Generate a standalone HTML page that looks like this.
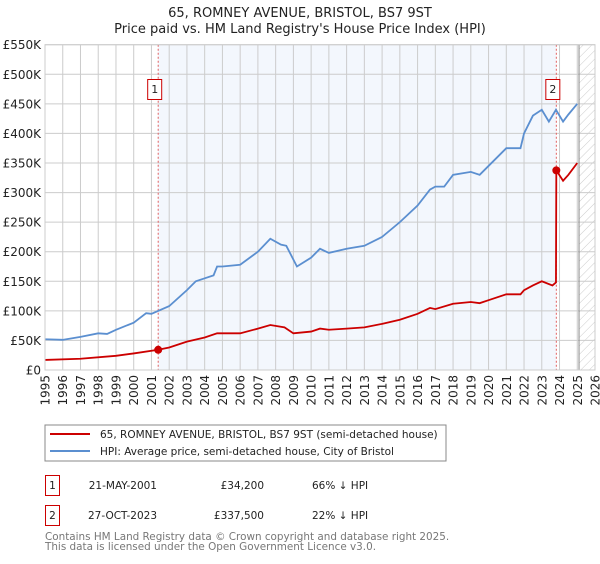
<!DOCTYPE html>
<html><head><meta charset="utf-8"><style>
body{margin:0;background:#fff;font-family:"DejaVu Sans","Liberation Sans",sans-serif;}
svg text{font-family:"DejaVu Sans","Liberation Sans",sans-serif;}
</style></head><body>
<svg id="chart" width="600" height="560" viewBox="0 0 600 560" xmlns="http://www.w3.org/2000/svg">
<defs><pattern id="hatch" width="6" height="6" patternUnits="userSpaceOnUse" patternTransform="rotate(45)"><line x1="0" y1="0" x2="0" y2="6" stroke="#ccc" stroke-width="1"/></pattern></defs>
<text x="300" y="17" text-anchor="middle" font-size="13" fill="#222">65, ROMNEY AVENUE, BRISTOL, BS7 9ST</text>
<text x="300" y="33" text-anchor="middle" font-size="13" fill="#222">Price paid vs. HM Land Registry's House Price Index (HPI)</text>
<g id="plot"></g>
<rect x="45" y="425" width="401" height="36" fill="#fff" stroke="#888"/>
<line x1="50" y1="434" x2="90" y2="434" stroke="#cc0000" stroke-width="2"/>
<text x="100" y="438" font-size="10.5" fill="#222">65, ROMNEY AVENUE, BRISTOL, BS7 9ST (semi-detached house)</text>
<line x1="50" y1="451" x2="90" y2="451" stroke="#5b8fd0" stroke-width="2"/>
<text x="100" y="455" font-size="10.5" fill="#222">HPI: Average price, semi-detached house, City of Bristol</text>
<g>
<rect x="45.5" y="475.5" width="14" height="20" fill="#fff" stroke="#cc0000"/>
<text x="52.5" y="489" text-anchor="middle" font-size="10.5" fill="#222">1</text>
<text x="157" y="489" text-anchor="end" font-size="10.5" fill="#222">21-MAY-2001</text>
<text x="264" y="489" text-anchor="end" font-size="10.5" fill="#222">£34,200</text>
<text x="312" y="489" font-size="10.5" fill="#222">66% ↓ HPI</text></g>
<g>
<rect x="45.5" y="505.5" width="14" height="20" fill="#fff" stroke="#cc0000"/>
<text x="52.5" y="519" text-anchor="middle" font-size="10.5" fill="#222">2</text>
<text x="157" y="519" text-anchor="end" font-size="10.5" fill="#222">27-OCT-2023</text>
<text x="264" y="519" text-anchor="end" font-size="10.5" fill="#222">£337,500</text>
<text x="312" y="519" font-size="10.5" fill="#222">22% ↓ HPI</text></g>
<text x="45" y="540" font-size="10.4" fill="#777">Contains HM Land Registry data © Crown copyright and database right 2025.</text>
<text x="45" y="550" font-size="10.4" fill="#777">This data is licensed under the Open Government Licence v3.0.</text>
</svg>
<script>
const hpiYears=[1995,1996,1997,1998,1998.5,1999,2000,2000.7,2001,2002,2003,2003.5,2004,2004.5,2004.7,2005,2006,2007,2007.7,2008.3,2008.6,2009.2,2010,2010.5,2011,2012,2013,2014,2015,2016,2016.7,2017,2017.5,2018,2019,2019.5,2020,2021,2021.8,2022,2022.5,2023,2023.4,2023.8,2024.2,2024.5,2025];
const hpiValues=[52,51,56,62,61,68,80,96,95,108,135,150,155,160,175,175,178,200,222,212,210,175,190,205,198,205,210,225,250,278,305,310,310,330,335,330,345,375,375,400,430,440,420,440,420,432,450];
const propYears=[1995,1997,1999,2000,2001.38,2002,2003,2004,2004.7,2006,2007,2007.7,2008.5,2009,2010,2010.5,2011,2012,2013,2014,2015,2016,2016.7,2017,2018,2019,2019.5,2020,2021,2021.8,2022,2022.5,2023,2023.6,2023.8,2023.82,2024.2,2024.5,2025];
const propValues=[17,19,24,28,34.2,38,48,55,62,62,70,76,72,62,65,70,68,70,72,78,85,95,105,103,112,115,113,118,128,128,135,143,150,143,148,337.5,320,330,350];
const saleYears=[2001.38,2023.82];
const saleValues=[34.2,337.5];
const saleLabels=["1","2"];
const yTicks=[0,50,100,150,200,250,300,350,400,450,500,550];
const yTickLabels=["£0","£50K","£100K","£150K","£200K","£250K","£300K","£350K","£400K","£450K","£500K","£550K"];
const xTicks=[1995,1996,1997,1998,1999,2000,2001,2002,2003,2004,2005,2006,2007,2008,2009,2010,2011,2012,2013,2014,2015,2016,2017,2018,2019,2020,2021,2022,2023,2024,2025,2026];
const L=45,R=595,T=44.7,B=370;
const X=y=>L+(y-1995)*(R-L)/31;
const Y=v=>B-v*(B-T)/550;
const NS="http://www.w3.org/2000/svg";
const g=document.getElementById('plot');
function mk(t,a){const e=document.createElementNS(NS,t);for(const k in a)e.setAttribute(k,a[k]);g.appendChild(e);return e;}
let e;
e=mk('rect',{x:L,y:T,width:R-L,height:B-T,fill:'#fff'});


e=mk('rect',{x:X(saleYears[0]),y:T,width:X(saleYears[1])-X(saleYears[0]),height:B-T,fill:'#eef3fc',opacity:0.7});


e=mk('rect',{x:X(2025.1),y:T,width:R-X(2025.1),height:B-T,fill:'url(#hatch)'});


yTicks.forEach((v,i)=>{
 e=mk('line',{x1:L,x2:R,y1:Y(v),y2:Y(v),stroke:'#ccc','stroke-width':1});
 
 
 e=mk('text',{x:L-4,y:Y(v)+4.5,'text-anchor':'end','font-size':12,fill:'#222'});
 e.textContent=yTickLabels[i];
 
 
});
xTicks.forEach(y=>{
 e=mk('line',{x1:X(y),x2:X(y),y1:T,y2:B,stroke:'#ccc','stroke-width':1});
 
 
 e=mk('text',{x:0,y:0,'text-anchor':'end','font-size':12,fill:'#222',transform:`translate(${X(y)+4.5},${B+5}) rotate(-90)`});
 e.textContent=y;
 
 
});
e=mk('line',{x1:X(2025.1),x2:X(2025.1),y1:T,y2:B,stroke:'#888','stroke-width':1});


saleYears.forEach((s,i)=>{
 e=mk('line',{x1:X(s),x2:X(s),y1:T,y2:B,stroke:'#e06060','stroke-width':1,'stroke-dasharray':'2,2'});
 
 
});
e=mk('polyline',{points:hpiYears.map((y,i)=>X(y)+','+Y(hpiValues[i])).join(' '),fill:'none',stroke:'#5b8fd0','stroke-width':1.8});


e=mk('polyline',{points:propYears.map((y,i)=>X(y)+','+Y(propValues[i])).join(' '),fill:'none',stroke:'#cc0000','stroke-width':1.8});


saleYears.forEach((s,i)=>{
 e=mk('circle',{cx:X(s),cy:Y(saleValues[i]),r:4,fill:'#cc0000'});
 
 
 e=mk('rect',{x:X(s)-10.5,y:79.5,width:14,height:20,fill:'#fff',stroke:'#cc0000'});
 
 
 e=mk('text',{x:X(s)-3.5,y:93,'text-anchor':'middle','font-size':11,fill:'#222'});
 e.textContent=saleLabels[i];
 
 
});
e=mk('rect',{x:L,y:T,width:R-L,height:B-T,fill:'none',stroke:'#ccc'});


</script>
</body></html>
